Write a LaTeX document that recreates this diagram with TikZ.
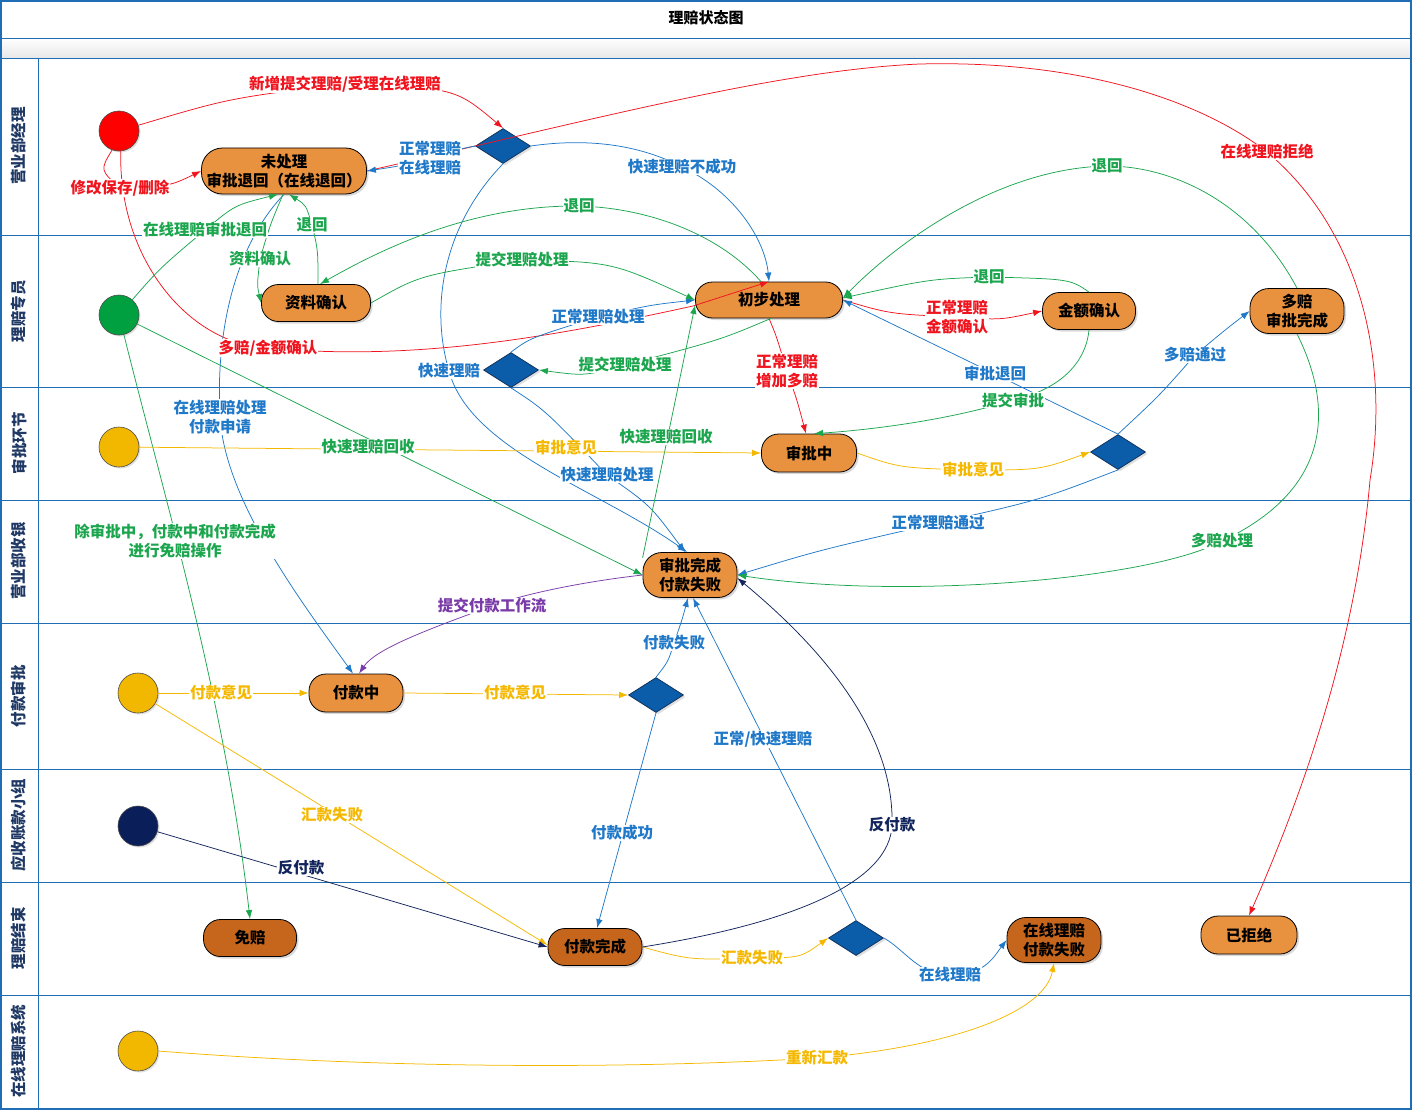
\documentclass[tikz,border=0pt]{standalone}
\usepackage{fontspec}
\setmainfont{Noto Sans CJK SC}
\usetikzlibrary{arrows.meta,shapes.geometric,shadows}
\definecolor{fr}{HTML}{1F6DB5}
\definecolor{nodeor}{HTML}{E8913F}
\definecolor{nodedk}{HTML}{C6661D}
\definecolor{diab}{HTML}{0B5DAA}
\definecolor{diabd}{HTML}{12335E}
\definecolor{cred}{HTML}{F0141E}
\definecolor{cblue}{HTML}{1F78C8}
\definecolor{cgreen}{HTML}{1BA64E}
\definecolor{cyel}{HTML}{F5B800}
\definecolor{cnavy}{HTML}{12245C}
\definecolor{cpur}{HTML}{7A3AA8}
\definecolor{lanetxt}{HTML}{1F3864}
\definecolor{sgreen}{HTML}{00A040}
\definecolor{syel}{HTML}{F2B800}
\definecolor{snavy}{HTML}{0A1E5A}
\tikzset{
  st/.style={rectangle, rounded corners=17pt, draw=black, line width=0.8pt, fill=nodeor,
    font=\bfseries\fontsize{15.5}{19}\selectfont, align=center, inner sep=0pt,
    drop shadow={shadow xshift=2pt,shadow yshift=-2pt,opacity=0.3}},
  dk/.style={fill=nodedk},
  dia/.style={diamond, draw=diabd, line width=0.8pt, fill=diab, minimum width=55pt, minimum height=35pt,
    inner sep=0pt, drop shadow={shadow xshift=2pt,shadow yshift=-2pt,opacity=0.25}},
  startc/.style={circle, draw=black!70, line width=0.6pt, minimum size=40pt, inner sep=0pt,
    drop shadow={shadow xshift=1.5pt,shadow yshift=-1.5pt,opacity=0.25}},
  lane/.style={rotate=90, font=\bfseries\fontsize{15.5}{19}\selectfont, text=lanetxt},
  ed/.style={line width=0.75pt, -{Latex[length=9pt,width=6.5pt]}},
  lbl/.style={fill=white, inner sep=0.6pt, font=\bfseries\fontsize{15.5}{19}\selectfont, align=center},
  fl/.style={draw=fr, line width=0.9pt}
}
\begin{document}
\begin{tikzpicture}[x=1pt,y=-1pt]
\useasboundingbox (0,0) rectangle (1412,1110);
% frame and lanes
\shade[top color=white,bottom color=black!9] (1,38) rectangle (1411,58);
\draw[fl] (1,38) -- (1411,38);
\draw[fl] (1,58) -- (1411,58);
\foreach \yy in {235,387,500,623,769,882,995} \draw[fl] (1,\yy) -- (1411,\yy);
\draw[fl] (38,58) -- (38,1109);
\draw[draw=fr, line width=1.4pt] (1,1) rectangle (1411,1109);
\node[font=\bfseries\fontsize{15}{18}\selectfont] (title) at (706,18) {理赔状态图};
\node[lane] (h1) at (19,146) {营业部经理};
\node[lane] (h2) at (19,311) {理赔专员};
\node[lane] (h3) at (19,443) {审批环节};
\node[lane] (h4) at (19,561) {营业部收银};
\node[lane] (h5) at (19,696) {付款审批};
\node[lane] (h6) at (19,825) {应收账款小组};
\node[lane] (h7) at (19,938) {理赔结束};
\node[lane] (h8) at (19,1051) {在线理赔系统};
% start nodes
\node[startc, fill=red] (s1) at (119,131) {};
\node[startc, fill=sgreen] (s2) at (119,315) {};
\node[startc, fill=syel] (s3) at (119,447) {};
\node[startc, fill=syel] (s4) at (138,693) {};
\node[startc, fill=snavy] (s5) at (138,826) {};
\node[startc, fill=syel] (s6) at (138,1051) {};
% states
\node[st, minimum width=165pt, minimum height=46pt, rounded corners=21pt] (n1) at (284,171) {未处理\\审批退回（在线退回）};
\node[st, minimum width=109pt, minimum height=37pt] (n2) at (316,303) {资料确认};
\node[st, minimum width=147pt, minimum height=36pt] (n3) at (769,300) {初步处理};
\node[st, minimum width=93pt, minimum height=37pt] (n4) at (1089,311) {金额确认};
\node[st, minimum width=94pt, minimum height=45pt, rounded corners=19pt] (n5) at (1297,311) {多赔\\审批完成};
\node[st, minimum width=95pt, minimum height=38pt] (n6) at (809,453) {审批中};
\node[st, minimum width=94pt, minimum height=45pt, rounded corners=19pt] (n7) at (690,575) {审批完成\\付款失败};
\node[st, minimum width=94pt, minimum height=38pt] (n8) at (356,693) {付款中};
\node[st, dk, minimum width=93pt, minimum height=37pt] (n9) at (250,938) {免赔};
\node[st, dk, minimum width=94pt, minimum height=37pt] (n10) at (595,947) {付款完成};
\node[st, dk, minimum width=94pt, minimum height=45pt, rounded corners=19pt] (n11) at (1054,940) {在线理赔\\付款失败};
\node[st, minimum width=96pt, minimum height=38pt] (n12) at (1249,935) {已拒绝};
% decisions
\node[dia] (d1) at (503,146) {};
\node[dia] (d2) at (511,370) {};
\node[dia] (d3) at (1118,452) {};
\node[dia] (d4) at (656,695) {};
\node[dia] (d5) at (856,938) {};
% label points
\coordinate (l1) at (345,84);
\coordinate (l2) at (120,188);
\coordinate (l3) at (268,348);
\coordinate (l4) at (1267,152);
\coordinate (l5) at (957,317);
\coordinate (l6) at (787,371);
\coordinate (l7) at (430,158);
\coordinate (l8) at (682,167);
\coordinate (l9) at (449,371);
\coordinate (l10) at (598,317);
\coordinate (l11) at (607,475);
\coordinate (l12) at (973,470);
\coordinate (l13) at (995,374);
\coordinate (l14) at (1195,355);
\coordinate (l15) at (938,523);
\coordinate (l16) at (674,643);
\coordinate (l17) at (622,833);
\coordinate (l18) at (763,739);
\coordinate (l19) at (950,975);
\coordinate (l20) at (220,417);
\coordinate (l21) at (175,541);
\coordinate (l22) at (205,230);
\coordinate (l23) at (260,259);
\coordinate (l24) at (312,225);
\coordinate (l25) at (579,206);
\coordinate (l26) at (522,260);
\coordinate (l27) at (625,365);
\coordinate (l28) at (989,277);
\coordinate (l29) at (1013,400);
\coordinate (l30) at (1107,166);
\coordinate (l31) at (1222,541);
\coordinate (l32) at (368,447);
\coordinate (l33) at (666,437);
\coordinate (l34) at (566,448);
\coordinate (l35) at (221,693);
\coordinate (l36) at (515,693);
\coordinate (l37) at (332,815);
\coordinate (l38) at (752,958);
\coordinate (l39) at (817,1058);
\coordinate (l40) at (301,868);
\coordinate (l41) at (892,825);
\coordinate (l42) at (492,606);
\coordinate (w3) at (693,306);
\coordinate (w4a) at (920,64);
\coordinate (w4b) at (1370,480);
% red edges
\draw[ed, cred] (s1) .. controls (230,98) .. (l1) .. controls (455,88) .. (d1.north);
\draw[ed, cred] (s1.250) .. controls (100,170) .. (l2) .. controls (170,186) .. (n1.west);
\draw[ed, cred] (s1.275) .. controls (118,260) and (190,345) .. (l3) .. controls (420,362) and (560,335) .. (w3) -- (n3.north);
\draw[ed, cred] (n1.east) .. controls (600,118) and (780,70) .. (w4a) .. controls (1080,60) and (1200,100) .. (l4) .. controls (1360,230) and (1390,360) .. (w4b) .. controls (1355,650) and (1300,800) .. (n12.north);
\draw[ed, cred] (n3.east) .. controls (890,314) .. (l5) .. controls (1000,320) .. (n4.west);
\draw[ed, cred] (n3.south) .. controls (776,335) .. (l6) .. controls (797,400) .. ([xshift=-3pt]n6.north);
% blue edges
\draw[ed, cblue] (d1.west) .. controls (455,150) .. (l7) .. controls (400,166) .. (n1.east);
\draw[ed, cblue] (d1.east) .. controls (600,136) and (650,150) .. (l8) .. controls (735,192) and (765,240) .. (n3.north);
\draw[ed, cblue] (d1.south) .. controls (448,220) and (428,300) .. (l9) .. controls (470,450) and (600,490) .. ([xshift=-3pt]n7.north);
\draw[ed, cblue] (d2.north) .. controls (530,338) .. (l10) .. controls (650,305) .. (n3.west);
\draw[ed, cblue] (d2.south) .. controls (545,410) .. (l11) .. controls (650,505) .. ([xshift=-5pt]n7.north);
\draw[ed, cblue] (d3.north) -- (n3.east);
\draw[ed, cblue] (d3.north) .. controls (1160,395) .. (l14) .. controls (1225,330) .. (n5.west);
\draw[ed, cblue] (d3.south) .. controls (1040,500) .. (l15) .. controls (820,550) .. (n7.east);
\draw[ed, cblue] (d4.north) .. controls (668,662) .. (l16) .. controls (682,620) .. ([xshift=-2pt]n7.south);
\draw[ed, cblue] (d4.south) -- ([xshift=2pt]n10.north);
\draw[ed, cblue] (d5.north) -- ([xshift=3pt]n7.south);
\draw[ed, cblue] (d5.east) .. controls (905,950) and (920,976) .. (l19) .. controls (985,976) and (995,955) .. (n11.west);
\draw[ed, cblue] (n1.south) .. controls (240,240) and (215,320) .. (l20) .. controls (225,500) and (300,600) .. ([xshift=-3pt]n8.north);
% green edges
\draw[ed, cgreen] (s2) .. controls (165,500) and (225,700) .. (n9.north);
\draw[ed, cgreen] (s2) .. controls (160,268) .. (l22) .. controls (235,205) .. ([xshift=-6pt]n1.south);
\draw[ed, cgreen] ([xshift=-1pt]n1.south) .. controls (270,225) .. (l23) .. controls (257,285) .. (n2.west);
\draw[ed, cgreen] ([xshift=2pt]n2.north) .. controls (318,250) .. (l24) .. controls (306,205) .. ([xshift=5pt]n1.south);
\draw[ed, cgreen] ([xshift=-8pt]n3.north) .. controls (720,235) and (650,208) .. (l25) .. controls (470,205) and (380,250) .. ([xshift=4pt]n2.north);
\draw[ed, cgreen] (n2.east) .. controls (420,275) .. (l26) .. controls (612,262) .. (n3.west);
\draw[ed, cgreen] ([xshift=2pt]n3.south) .. controls (720,340) .. (l27) .. controls (585,376) .. (d2.east);
\draw[ed, cgreen] (n4.north) .. controls (1070,279) .. (l28) .. controls (930,279) .. ([yshift=2pt]n3.east);
\draw[ed, cgreen] (n4.south) .. controls (1085,370) and (1050,392) .. (l29) .. controls (950,420) and (870,430) .. ([xshift=5pt]n6.north);
\draw[ed, cgreen] (n5.north) .. controls (1250,200) and (1170,166) .. (l30) .. controls (1000,168) and (900,240) .. ([yshift=2pt]n3.east);
\draw[ed, cgreen] (n5.south) .. controls (1335,410) and (1330,490) .. (l31) .. controls (1150,580) and (900,600) .. (n7.east);
\draw[ed, cgreen] (s2) -- (n7.west);
\draw[ed, cgreen] (n7.160) -- ([yshift=-5pt]n3.west);
% yellow edges
\draw[ed, cyel] (s3) -- (n6.west);
\draw[ed, cyel] (s4) -- (n8.west);
\draw[ed, cyel] (n8.east) -- (d4.west);
\draw[ed, cyel] (s4) -- ([yshift=2pt]n10.west);
\draw[ed, cyel] (n6.east) .. controls (900,468) .. (l12) .. controls (1040,470) .. (d3.west);
\draw[ed, cyel] (n10.east) .. controls (690,960) .. (l38) .. controls (800,958) .. (d5.west);
\draw[ed, cyel] (s6.east) .. controls (400,1070) and (650,1068) .. (l39) .. controls (960,1046) and (1045,1010) .. (n11.south);
% navy and purple
\draw[ed, cnavy] (s5) -- (n10.west);
\draw[ed, cnavy] (n10.east) .. controls (800,922) and (890,880) .. (l41) .. controls (895,720) and (800,630) .. ([yshift=-3pt]n7.east);
\draw[ed, cpur] (n7.west) .. controls (580,582) and (520,595) .. (l42) .. controls (420,632) and (375,650) .. ([xshift=3pt]n8.north);
% labels
\node[lbl, text=cred] (t1) at (l1) {新增提交理赔/受理在线理赔};
\node[lbl, text=cred] (t2) at (l2) {修改保存/删除};
\node[lbl, text=cred] (t3) at (l3) {多赔/金额确认};
\node[lbl, text=cred] (t4) at (l4) {在线理赔拒绝};
\node[lbl, text=cred] (t5) at (l5) {正常理赔\\金额确认};
\node[lbl, text=cred] (t6) at (l6) {正常理赔\\增加多赔};
\node[lbl, text=cblue] (t7) at (l7) {正常理赔\\在线理赔};
\node[lbl, text=cblue] (t8) at (l8) {快速理赔不成功};
\node[lbl, text=cblue] (t9) at (l9) {快速理赔};
\node[lbl, text=cblue] (t10) at (l10) {正常理赔处理};
\node[lbl, text=cblue] (t11) at (l11) {快速理赔处理};
\node[lbl, text=cyel] (t12) at (l12) {审批意见};
\node[lbl, text=cblue] (t13) at (l13) {审批退回};
\node[lbl, text=cblue] (t14) at (l14) {多赔通过};
\node[lbl, text=cblue] (t15) at (l15) {正常理赔通过};
\node[lbl, text=cblue] (t16) at (l16) {付款失败};
\node[lbl, text=cblue] (t17) at (l17) {付款成功};
\node[lbl, text=cblue] (t18) at (l18) {正常/快速理赔};
\node[lbl, text=cblue] (t19) at (l19) {在线理赔};
\node[lbl, text=cblue] (t20) at (l20) {在线理赔处理\\付款申请};
\node[lbl, text=cgreen] (t21) at (l21) {除审批中，付款中和付款完成\\进行免赔操作};
\node[lbl, text=cgreen] (t22) at (l22) {在线理赔审批退回};
\node[lbl, text=cgreen] (t23) at (l23) {资料确认};
\node[lbl, text=cgreen] (t24) at (l24) {退回};
\node[lbl, text=cgreen] (t25) at (l25) {退回};
\node[lbl, text=cgreen] (t26) at (l26) {提交理赔处理};
\node[lbl, text=cgreen] (t27) at (l27) {提交理赔处理};
\node[lbl, text=cgreen] (t28) at (l28) {退回};
\node[lbl, text=cgreen] (t29) at (l29) {提交审批};
\node[lbl, text=cgreen] (t30) at (l30) {退回};
\node[lbl, text=cgreen] (t31) at (l31) {多赔处理};
\node[lbl, text=cgreen] (t32) at (l32) {快速理赔回收};
\node[lbl, text=cgreen] (t33) at (l33) {快速理赔回收};
\node[lbl, text=cyel] (t34) at (l34) {审批意见};
\node[lbl, text=cyel] (t35) at (l35) {付款意见};
\node[lbl, text=cyel] (t36) at (l36) {付款意见};
\node[lbl, text=cyel] (t37) at (l37) {汇款失败};
\node[lbl, text=cyel] (t38) at (l38) {汇款失败};
\node[lbl, text=cyel] (t39) at (l39) {重新汇款};
\node[lbl, text=cnavy] (t40) at (l40) {反付款};
\node[lbl, text=cnavy] (t41) at (l41) {反付款};
\node[lbl, text=cpur] (t42) at (l42) {提交付款工作流};
\end{tikzpicture}
\end{document}
